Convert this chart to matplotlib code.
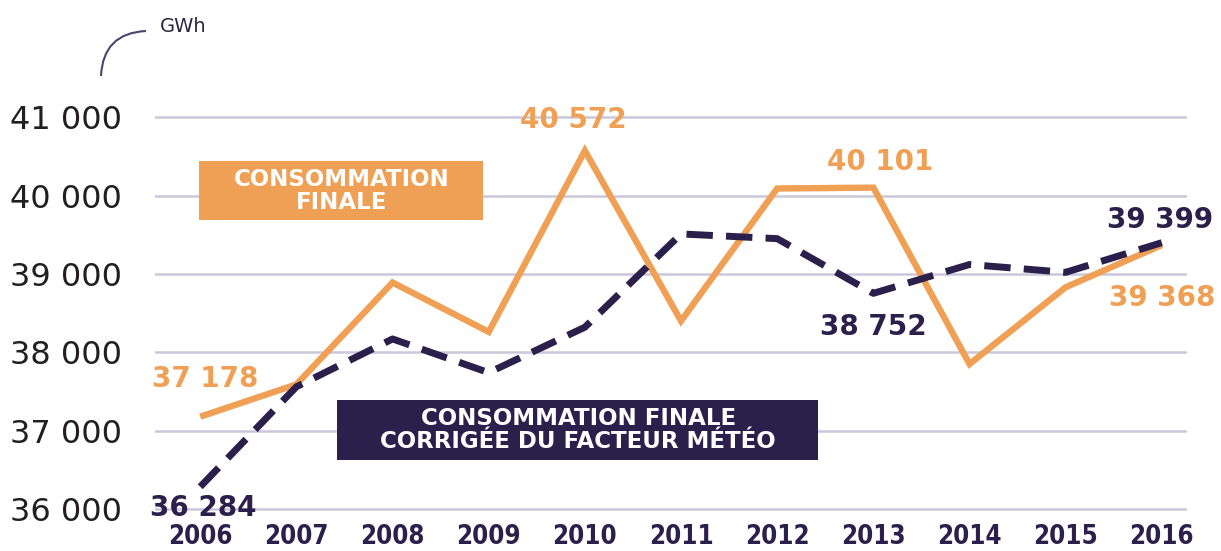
"""Consommation finale d'énergie, 2006-2016 (GWh)."""
import matplotlib
matplotlib.use("Agg")
import matplotlib.pyplot as plt
from matplotlib.patches import Rectangle, PathPatch
from matplotlib.path import Path
from matplotlib.ticker import FuncFormatter

years = ["2006", "2007", "2008", "2009", "2010", "2011",
         "2012", "2013", "2014", "2015", "2016"]
conso_finale = [37178, 37590, 38890, 38260, 40572, 38400,
                40090, 40101, 37850, 38830, 39368]
conso_corrigee = [36284, 37560, 38170, 37740, 38320, 39510,
                  39450, 38752, 39120, 39020, 39399]
y_ticks = [36000, 37000, 38000, 39000, 40000, 41000]

ORANGE = "#f0a055"
NAVY = "#2b1f4b"
GRID = "#cac8da"

fig = plt.figure(figsize=(12.21, 5.51), dpi=100)
ax = fig.add_axes([0.127, 0.062, 0.845, 0.768])

x = list(range(len(years)))
ax.plot(x, conso_finale, color=ORANGE, lw=4.6, solid_joinstyle="miter",
        solid_capstyle="butt", zorder=3)
ax.plot(x, conso_corrigee, color=NAVY, lw=5, dashes=(3.8, 1.9),
        dash_capstyle="butt", zorder=4)

ax.set_xlim(-0.47, 10.26)
ax.set_ylim(35900, 41300)
ax.set_yticks(y_ticks)
ax.yaxis.set_major_formatter(
    FuncFormatter(lambda v, _: f"{int(v):,}".replace(",", " ")))
ax.set_xticks(x)
ax.set_xticklabels(years)
ax.grid(axis="y", color=GRID, lw=1.8, zorder=1)
ax.set_axisbelow(True)
for s in ax.spines.values():
    s.set_visible(False)
ax.tick_params(axis="y", length=0, pad=24, labelsize=23, labelcolor="#231f20")
ax.tick_params(axis="x", length=0, pad=5)
for lab in ax.get_xticklabels():
    lab.set_fontsize(18.5)
    lab.set_fontweight("bold")
    lab.set_fontstretch("condensed")
    lab.set_color(NAVY)


def fmt(v):
    return f"{v:,}".replace(",", " ")


# valeurs remarquables (décalage en année, GWh)
labels = [
    (conso_finale, 0, ORANGE, (0.05, 480)),
    (conso_finale, 4, ORANGE, (-0.12, 390)),
    (conso_finale, 7, ORANGE, (0.07, 325)),
    (conso_finale, 10, ORANGE, (0.0, -677)),
    (conso_corrigee, 0, NAVY, (0.03, -275)),
    (conso_corrigee, 7, NAVY, (0.0, -431)),
    (conso_corrigee, 10, NAVY, (-0.02, 287)),
]
for serie, i, col, (dx, dy) in labels:
    ax.text(i + dx, serie[i] + dy, fmt(serie[i]), color=col, fontsize=20,
            fontweight="bold", ha="center", va="center", zorder=6)

# encadrés de légende
ax.add_patch(Rectangle((-0.01, 39686), 2.95, 753, color=ORANGE, zorder=2,
                       lw=0))
ax.text(1.47, 40060, "CONSOMMATION\nFINALE", color="white", fontsize=16.5,
        fontweight="bold", ha="center", va="center", linespacing=1.0,
        zorder=5)
ax.add_patch(Rectangle((1.42, 36629), 5.0, 765, color=NAVY, zorder=2, lw=0))
ax.text(3.93, 37011, "CONSOMMATION FINALE\nCORRIGÉE DU FACTEUR MÉTÉO",
        color="white", fontsize=16.5, fontweight="bold", ha="center",
        va="center", linespacing=1.0, zorder=5)

# unité
fig.text(183 / 1221, 1 - 27 / 551, "GWh", fontsize=14, color="#2a2540",
         ha="center", va="center")
arc = Path([(101 / 1221, 1 - 76 / 551), (103 / 1221, 1 - 33 / 551),
            (146 / 1221, 1 - 31 / 551)],
           [Path.MOVETO, Path.CURVE3, Path.CURVE3])
fig.add_artist(PathPatch(arc, fill=False, edgecolor="#4a4570", lw=1.5,
                         transform=fig.transFigure))

fig.savefig("out.png", dpi=100)
